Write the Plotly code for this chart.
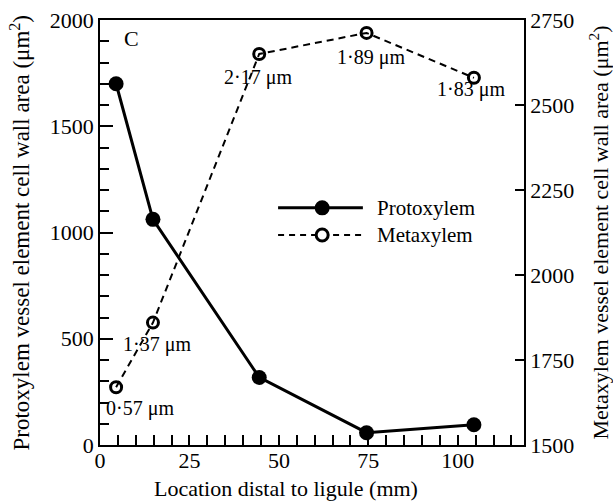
import plotly.graph_objects as go

# Data
location_mm = [4.5, 14.8, 44.5, 74.5, 104.5]
protoxylem_area = [1700, 1062, 318, 58, 95]
metaxylem_area = [1670, 1860, 2650, 2712, 2580]
metaxylem_labels = ["0·57 μm", "1·37 μm", "2·17 μm", "1·89 μm", "1·83 μm"]
label_shift_x = [24, 4, -1, 4, -3]
label_shift_y = [-21, -22, -23, -25, -12]
x_ticks = [0, 25, 50, 75, 100]
y_ticks = [0, 500, 1000, 1500, 2000]
y2_ticks = [1500, 1750, 2000, 2250, 2500, 2750]

FONT = "Liberation Serif"
fig = go.Figure()

fig.add_trace(go.Scatter(
    x=location_mm, y=protoxylem_area, mode="lines+markers", name="Protoxylem",
    line=dict(color="black", width=3),
    marker=dict(symbol="circle", size=15, color="black"),
    showlegend=False, yaxis="y"))

fig.add_trace(go.Scatter(
    x=location_mm, y=metaxylem_area, mode="lines+markers", name="Metaxylem",
    line=dict(color="black", width=2, dash="7px,5px"),
    marker=dict(symbol="circle-open", size=11, color="black", line=dict(width=3, color="black")),
    showlegend=False, yaxis="y2"))

annotations = []
for xv, yv, t, dx, dy in zip(location_mm, metaxylem_area, metaxylem_labels, label_shift_x, label_shift_y):
    annotations.append(dict(x=xv, y=yv, xref="x", yref="y2", text=t, showarrow=False,
                            xshift=dx, yshift=dy, font=dict(family=FONT, size=20, color="black")))

annotations.append(dict(x=0.075, y=1, xref="paper", yref="paper", text="C", showarrow=False,
                        xanchor="center", yanchor="top", yshift=-4,
                        font=dict(family=FONT, size=22, color="black")))

# Axis titles as annotations
annotations.append(dict(x=0, y=0.5, xref="paper", yref="paper", xshift=-80, textangle=-90,
                        text="Protoxylem vessel element cell wall area (μm<sup>2</sup>)", showarrow=False,
                        xanchor="center", yanchor="middle", font=dict(family=FONT, size=23, color="black")))
annotations.append(dict(x=1, y=0.5, xref="paper", yref="paper", xshift=74, textangle=-90,
                        text="Metaxylem vessel element cell wall area (μm<sup>2</sup>)", showarrow=False,
                        xanchor="center", yanchor="middle", font=dict(family=FONT, size=22, color="black")))
annotations.append(dict(x=0.4375, y=0, xref="paper", yref="paper", yshift=-43,
                        text="Location distal to ligule (mm)", showarrow=False,
                        xanchor="center", yanchor="middle", font=dict(family=FONT, size=22, color="black")))

# Legend drawn manually
legend_items = [("Protoxylem", 0.558, "solid", "black"), ("Metaxylem", 0.494, "6px,5px", "white")]
shapes = []
for name, yy, dash, fill in legend_items:
    shapes.append(dict(type="line", xref="paper", yref="paper", x0=0.42, x1=0.62, y0=yy, y1=yy,
                       line=dict(color="black", width=3 if dash == "solid" else 2, dash=dash)))
    r = 7.5 if fill == "black" else 6
    shapes.append(dict(type="circle", xref="paper", yref="paper", xsizemode="pixel", ysizemode="pixel",
                       xanchor=0.524, yanchor=yy, x0=-r, x1=r, y0=-r, y1=r,
                       fillcolor=fill, line=dict(color="black", width=0 if fill == "black" else 3)))
    annotations.append(dict(x=0.649, y=yy, xref="paper", yref="paper", text=name, showarrow=False,
                            xanchor="left", yanchor="middle",
                            font=dict(family=FONT, size=21, color="black")))

fig.update_layout(
    width=613, height=502,
    margin=dict(l=100, r=89, t=20, b=57, autoexpand=False),
    paper_bgcolor="white", plot_bgcolor="white",
    font=dict(family=FONT, size=22, color="black"),
    annotations=annotations, shapes=shapes,
    xaxis=dict(range=[0, 118.5], tickvals=x_ticks, ticks="inside", ticklen=10, automargin=False,
               tickwidth=1.5, tickcolor="black", showline=True, linecolor="black", linewidth=1.5,
               mirror=True, showgrid=False, zeroline=False, ticklabelstandoff=-5,
               minor=dict(dtick=5, tick0=0, ticks="inside", ticklen=10, tickwidth=1.5, tickcolor="black", showgrid=False),
               tickfont=dict(size=22)),
    yaxis=dict(range=[0, 2000], tickvals=y_ticks, ticks="inside", ticklen=13, automargin=False,
               tickwidth=1.5, tickcolor="black", showline=True, linecolor="black", linewidth=1.5,
               showgrid=False, zeroline=False,
               minor=dict(dtick=100, ticks="inside", ticklen=9, tickwidth=1.5, tickcolor="black", showgrid=False),
               tickfont=dict(size=22)),
    yaxis2=dict(range=[1500, 2750], tickvals=y2_ticks, overlaying="y", side="right", automargin=False,
                ticks="inside", ticklen=9, tickwidth=1.5, tickcolor="black", showline=True, linecolor="black",
                linewidth=1.5, showgrid=False, zeroline=False,
                tickfont=dict(size=22)),
)

fig.write_html("out.html", config={"displayModeBar": False},
               post_script="document.body.style.margin='0';document.body.style.padding='0';document.body.style.overflow='hidden';")
